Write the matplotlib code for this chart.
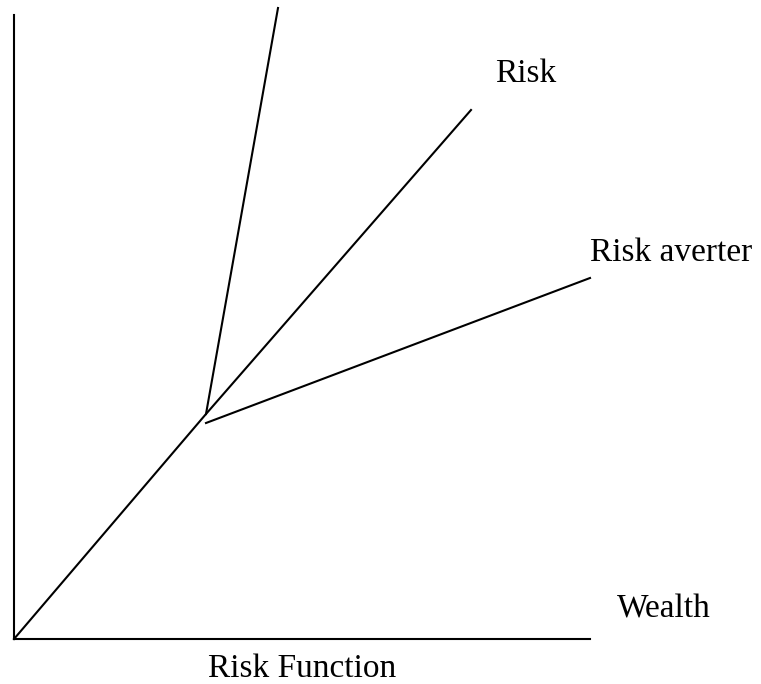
import matplotlib.pyplot as plt

# diagram coordinates (origin at the axes corner)
neutral_x = [0, 192, 457]
neutral_y = [0, 225, 529]
lover_x = [192, 264]
lover_y = [225, 631]
averter_x = [192, 576]
averter_y = [216, 361]
axis_len_x = 576
axis_len_y = 624

fig = plt.figure(figsize=(7.61, 6.84), dpi=100)
ax = fig.add_axes([0, 0, 1, 1])
ax.set_xlim(-14, 747)
ax.set_ylim(-45, 639)
ax.axis("off")

lw = 1.5
ax.plot([0, axis_len_x], [0, 0], color="black", lw=lw)
ax.plot([0, 0], [0, axis_len_y], color="black", lw=lw)
ax.plot(neutral_x, neutral_y, color="black", lw=lw)
ax.plot(lover_x, lover_y, color="black", lw=lw)
ax.plot(averter_x, averter_y, color="black", lw=lw)

font = dict(family="Liberation Serif", fontsize=24, color="black",
            ha="left", va="baseline")
ax.text(481, 557, "Risk", **font)
ax.text(576, 378, "Risk averter", **font)
ax.text(603, 21, "Wealth", **font)
ax.text(194, -38, "Risk Function", **font)

fig.savefig("out.png", dpi=100)
